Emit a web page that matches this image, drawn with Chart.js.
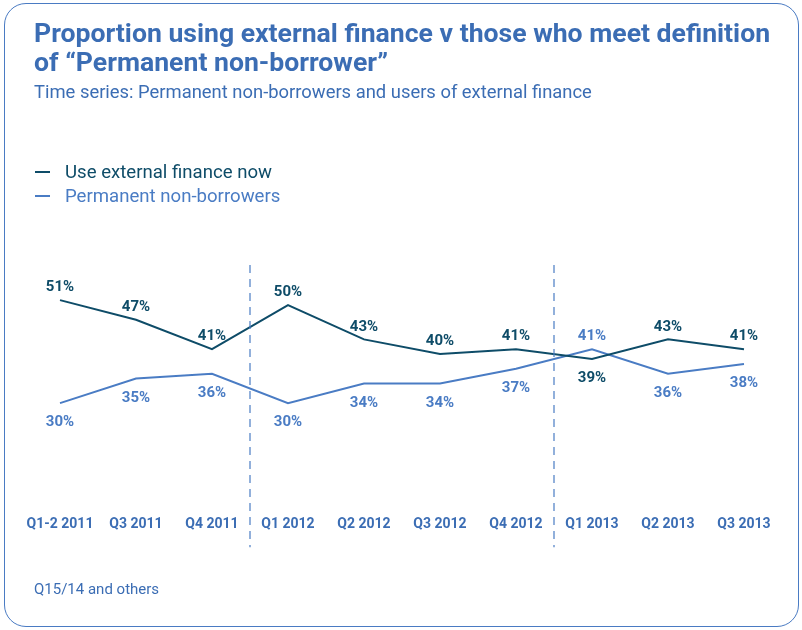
<!DOCTYPE html>
<html>
<head>
<meta charset="utf-8">
<title>External finance v permanent non-borrowers</title>
<script src="https://cdn.jsdelivr.net/npm/chart.js@4.4.0/dist/chart.umd.min.js"></script>
<style>
  html, body { margin: 0; padding: 0; background: #fff; }
  #page { position: relative; width: 802px; height: 630px; overflow: hidden; font-family: Roboto, sans-serif; }
  #frame { position: absolute; left: 4px; top: 3px; width: 793px; height: 622px; border: 1.5px solid #4a7bc3; border-radius: 22px; }
  #title { position: absolute; left: 34px; top: 18px; margin: 0; font-size: 26.6px; line-height: 29px; font-weight: bold; color: #3b6db4; }
  #subtitle { position: absolute; left: 34px; top: 81px; margin: 0; font-size: 18.4px; color: #3b6db4; }
  #legend { position: absolute; left: 35px; top: 160px; }
  .legend-item { display: flex; align-items: center; height: 24px; font-size: 18.6px; }
  .legend-dash { display: inline-block; width: 15px; height: 0; border-top: 2px solid; margin-right: 15px; }
  #footer { position: absolute; left: 34px; top: 580px; font-size: 15px; color: #3b6db4; }
  #chartBox { position: absolute; left: 0; top: 0; width: 802px; height: 630px; }
</style>
</head>
<body>
<div id="page">
  <div id="frame"></div>
  <div id="chartBox"><canvas id="myChart"></canvas></div>
  <h1 id="title">Proportion using external finance v those who meet definition<br>of “Permanent non-borrower”</h1>
  <p id="subtitle">Time series: Permanent non-borrowers and users of external finance</p>
  <div id="legend"></div>
  <div id="footer">Q15/14 and others</div>
</div>
<script>
//DATA:
const quarters = ['Q1-2 2011', 'Q3 2011', 'Q4 2011', 'Q1 2012', 'Q2 2012', 'Q3 2012', 'Q4 2012', 'Q1 2013', 'Q2 2013', 'Q3 2013'];
const useExternalFinance = [51, 47, 41, 50, 43, 40, 41, 39, 43, 41];
const permanentNonBorrowers = [30, 35, 36, 30, 34, 34, 37, 41, 36, 38];
const yearStarts = ['Q1 2012', 'Q1 2013'];

const darkTeal = '#0e4c68';
const midBlue = '#4a7cc4';
const labelFont = 'bold 15px Roboto, sans-serif';

// dashed separators drawn half way between Q4 and the next Q1
const yearDividers = {
  id: 'yearDividers',
  afterDatasetsDraw(chart) {
    const ctx = chart.ctx;
    const x = chart.scales.x;
    const area = chart.chartArea;
    ctx.save();
    ctx.strokeStyle = midBlue;
    ctx.lineWidth = 1.2;
    ctx.setLineDash([8, 6]);
    yearStarts.forEach(label => {
      const idx = quarters.indexOf(label);
      const px = (x.getPixelForValue(idx - 1) + x.getPixelForValue(idx)) / 2;
      ctx.beginPath();
      ctx.moveTo(px, area.top + 9);
      ctx.lineTo(px, area.bottom + 46);
      ctx.stroke();
    });
    ctx.restore();
  }
};

// value labels: the higher series at a quarter gets its label above, the lower one below
const valueLabels = {
  id: 'valueLabels',
  afterDatasetsDraw(chart) {
    const ctx = chart.ctx;
    const sets = chart.data.datasets;
    ctx.save();
    ctx.font = labelFont;
    ctx.textAlign = 'center';
    sets.forEach((set, d) => {
      const meta = chart.getDatasetMeta(d);
      meta.data.forEach((pt, i) => {
        const value = set.data[i];
        const highest = sets.every((other, o) => o === d || other.data[i] < value);
        ctx.fillStyle = set.borderColor;
        if (highest) {
          ctx.textBaseline = 'bottom';
          ctx.fillText(value + '%', pt.x, pt.y - 5);
        } else {
          ctx.textBaseline = 'top';
          ctx.fillText(value + '%', pt.x, pt.y + 12);
        }
      });
    });
    ctx.restore();
  }
};

function renderLegend(chart) {
  const legend = document.getElementById('legend');
  chart.data.datasets.forEach(set => {
    const item = document.createElement('div');
    item.className = 'legend-item';
    item.style.color = set.borderColor;
    const dash = document.createElement('span');
    dash.className = 'legend-dash';
    dash.style.borderColor = set.borderColor;
    item.appendChild(dash);
    item.appendChild(document.createTextNode(set.label));
    legend.appendChild(item);
  });
}

const myChart = new Chart(document.getElementById('myChart'), {
  type: 'line',
  data: {
    labels: quarters,
    datasets: [{
      label: 'Use external finance now',
      data: useExternalFinance,
      borderColor: darkTeal,
      backgroundColor: darkTeal,
      borderWidth: 2,
      pointRadius: 0,
      tension: 0
    },
    {
      label: 'Permanent non-borrowers',
      data: permanentNonBorrowers,
      borderColor: midBlue,
      backgroundColor: midBlue,
      borderWidth: 2,
      pointRadius: 0,
      tension: 0
    }]
  },
  options: {
    responsive: true,
    maintainAspectRatio: false,
    animation: false,
    layout: {
      padding: { top: 256, left: 22, right: 20, bottom: 82 }
    },
    plugins: {
      legend: { display: false },
      tooltip: { enabled: false }
    },
    scales: {
      x: {
        offset: true,
        grid: { display: false, drawTicks: false },
        border: { display: false },
        ticks: {
          color: '#3b6db4',
          padding: 15,
          maxRotation: 0,
          autoSkip: false,
          font: { family: 'Roboto, sans-serif', size: 14, weight: 'bold' }
        }
      },
      y: {
        display: false,
        min: 10,
        max: 60
      }
    }
  },
  plugins: [yearDividers, valueLabels]
});

renderLegend(myChart);
</script>
</body>
</html>
